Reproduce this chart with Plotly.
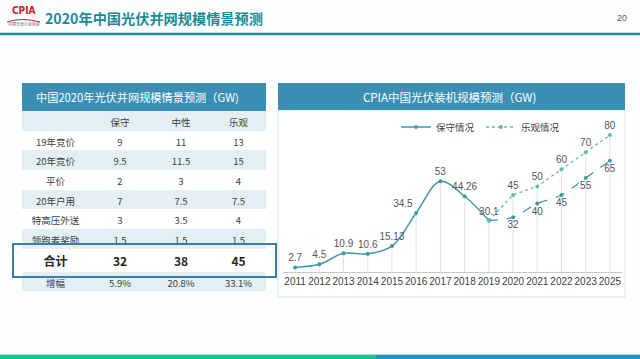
import plotly.graph_objects as go

W, H = 640, 359

# ---------------- data ----------------
years = ["2011", "2012", "2013", "2014", "2015", "2016", "2017", "2018",
         "2019", "2020", "2021", "2022", "2023", "2025"]
conservative = [2.7, 4.5, 10.9, 10.6, 15.13, 34.5, 53, 44.26, 30.1,
                32, 40, 45, 55, 65]
optimistic = [None, None, None, None, None, None, None, None, 30.1,
              45, 50, 60, 70, 80]
n_actual = 9  # 2011-2019 are actual values

table_title = "中国2020年光伏并网规模情景预测（GW)"
chart_title = "CPIA中国光伏装机规模预测（GW)"
table_cols = ["保守", "中性", "乐观"]
table_rows = ["19年竞价", "20年竞价", "平价", "20年户用", "特高压外送", "领跑者奖励"]
mix_conservative = [9, 9.5, 2, 7, 3, 1.5]
mix_neutral = [11, 11.5, 3, 7.5, 3.5, 1.5]
mix_optimistic = [13, 15, 4, 7.5, 4, 1.5]
total_label = "合计"
totals = [32, 38, 45]
growth_label = "增幅"
growth = ["5.9%", "20.8%", "33.1%"]


def px(x):
    return x / W


def py(y):
    return 1 - y / H


def fmt(v):
    return f"{v:g}"


CJK = "Noto Sans CJK SC"
LAT = "Liberation Sans"
C_CONS = "#3f9aa3"
C_OPT = "#62bba8"
LIGHT = "#e3eff3"
TXT = "#404040"

fig = go.Figure()

# ---------------- table (two parts: detail rows, then total + growth) ----------------
colw = [67, 62, 60, 55]
mix_cols = [mix_conservative, mix_neutral, mix_optimistic]
detail_cells = [table_rows] + [[fmt(v) for v in c] for c in mix_cols]
nrows = len(table_rows)
row_fill = [("white" if i % 2 == 0 else LIGHT) for i in range(nrows)]

fig.add_trace(go.Table(
    domain=dict(x=[px(22), px(266)], y=[py(250), py(111)]),
    columnwidth=colw,
    header=dict(values=[""] + table_cols, height=19.5,
                fill_color=LIGHT, line=dict(color=LIGHT, width=0),
                font=dict(family=CJK, size=9.5, color=TXT), align="center"),
    cells=dict(values=detail_cells, height=19.7,
               fill_color=[row_fill] * 4, line=dict(color=[row_fill] * 4, width=0),
               font=dict(family=CJK, size=9.5, color=TXT), align="center"),
))

fig.add_trace(go.Table(
    domain=dict(x=[px(22), px(266)], y=[py(296), py(248.7)]),
    columnwidth=colw,
    header=dict(values=[total_label] + [fmt(t) for t in totals], height=23,
                fill_color="white", line=dict(color="white", width=0),
                font=dict(family=CJK, size=12, color="#262626", weight="bold"), align="center"),
    cells=dict(values=[[growth_label]] + [[g] for g in growth], height=19,
               fill_color=LIGHT, line=dict(color=LIGHT, width=0),
               font=dict(family=CJK, size=9.5, color=TXT), align="center"),
))

# ---------------- chart ----------------
# drop lines from axis to the highest value of each year
dx, dy = [], []
for i, yr in enumerate(years):
    vals = [v for v in (conservative[i], optimistic[i]) if v is not None]
    dx += [yr, yr, None]
    dy += [0, max(vals), None]
fig.add_trace(go.Scatter(x=dx, y=dy, mode="lines", hoverinfo="skip",
                         line=dict(color="#e3e3e3", width=1), showlegend=False))

actual_pos = ["top center"] * n_actual
actual_pos[5] = "top left"
fig.add_trace(go.Scatter(
    x=years[:n_actual], y=conservative[:n_actual], name="保守情况",
    mode="lines+markers+text", line=dict(color=C_CONS, width=1.5, shape="spline"),
    marker=dict(size=4, color=C_CONS),
    text=[fmt(v) for v in conservative[:n_actual]], textposition=actual_pos,
    textfont=dict(family=LAT, size=10, color="#555555"), cliponaxis=False))

fig.add_trace(go.Scatter(
    x=years[n_actual - 1:], y=conservative[n_actual - 1:], name="保守情况",
    mode="lines+markers+text", line=dict(color=C_CONS, width=1.3, dash="dash", shape="spline"),
    marker=dict(size=4, color=C_CONS), showlegend=False,
    text=[""] + [fmt(v) for v in conservative[n_actual:]], textposition="bottom center",
    textfont=dict(family=LAT, size=10, color="#555555"), cliponaxis=False))

fig.add_trace(go.Scatter(
    x=years[n_actual - 1:], y=optimistic[n_actual - 1:], name="乐观情况",
    mode="lines+markers+text", line=dict(color=C_OPT, width=1.3, dash="dot"),
    marker=dict(size=4, color=C_OPT),
    text=[""] + [fmt(v) for v in optimistic[n_actual:]], textposition="top center",
    textfont=dict(family=LAT, size=10, color="#555555"), cliponaxis=False))

# ---------------- decorations ----------------
shapes = [
    dict(type="line", xref="paper", yref="paper", x0=0, x1=1, y0=py(34), y1=py(34),
         line=dict(color="#1d8e99", width=2.5)),
    dict(type="rect", xref="paper", yref="paper", x0=px(22), x1=px(266), y0=py(111), y1=py(83),
         fillcolor="#3b8fb4", line=dict(width=0), layer="below"),
    dict(type="rect", xref="paper", yref="paper", x0=px(278), x1=px(625), y0=py(297), y1=py(110),
         fillcolor="white", line=dict(color="#d3e3e7", width=1), layer="below"),
    dict(type="rect", xref="paper", yref="paper", x0=px(278), x1=px(625), y0=py(110), y1=py(83),
         fillcolor="#3b8fb4", line=dict(width=0), layer="below"),
    dict(type="rect", xref="paper", yref="paper", x0=px(13), x1=px(276), y0=py(277), y1=py(244),
         fillcolor="rgba(0,0,0,0)", line=dict(color="#3a80a5", width=2), layer="above"),
    dict(type="rect", xref="paper", yref="paper", x0=0, x1=px(376), y0=0, y1=py(355),
         fillcolor="#18c48e", line=dict(width=0)),
    dict(type="rect", xref="paper", yref="paper", x0=px(376), x1=1, y0=0, y1=py(355),
         fillcolor="#1f97c6", line=dict(width=0)),
    dict(type="line", xref="paper", yref="paper", x0=0, x1=1, y0=py(354.5), y1=py(354.5),
         line=dict(color="#a9dfd2", width=1)),
    # logo swoosh
    dict(type="path", xref="paper", yref="paper",
         path=f"M {px(7)},{py(22)} Q {px(22)},{py(17)} {px(40)},{py(22)}",
         line=dict(color="#c8202e", width=1)),
]

annotations = [
    dict(x=px(43), y=py(18), xref="paper", yref="paper", xanchor="left", yanchor="middle",
         text="<b>2020年中国光伏并网规模情景预测</b>", showarrow=False,
         font=dict(family=CJK, size=14.2, color="#1b8a98")),
    dict(x=px(629), y=py(18), xref="paper", yref="paper", xanchor="right", yanchor="middle",
         text="20", showarrow=False, font=dict(family=LAT, size=9, color="#595959")),
    dict(x=px(24), y=py(11), xref="paper", yref="paper", xanchor="center", yanchor="middle",
         text="<b>CPIA</b>", showarrow=False, font=dict(family="DejaVu Sans Condensed", size=10, color="#c8202e")),
    dict(x=px(24), y=py(24), xref="paper", yref="paper", xanchor="center", yanchor="middle",
         text="中国光伏行业协会", showarrow=False, font=dict(family=CJK, size=4, color="#555555")),
    dict(x=px(34), y=py(97), xref="paper", yref="paper", xanchor="left", yanchor="middle",
         text=table_title, showarrow=False, font=dict(family=CJK, size=11.2, color="white")),
    dict(x=px(449), y=py(97), xref="paper", yref="paper", xanchor="center", yanchor="middle",
         text=chart_title, showarrow=False, font=dict(family=CJK, size=11.5, color="white")),
]

fig.update_layout(
    width=W, height=H, margin=dict(l=0, r=0, t=0, b=0),
    paper_bgcolor="#fdfefe", plot_bgcolor="rgba(0,0,0,0)",
    shapes=shapes, annotations=annotations,
    showlegend=True,
    legend=dict(orientation="h", x=px(396), y=py(127), xanchor="left", yanchor="middle",
                font=dict(family=CJK, size=9.5, color=TXT),
                bgcolor="rgba(0,0,0,0)", itemwidth=30, tracegroupgap=0,
                entrywidth=40, entrywidthmode="pixels"),
    xaxis=dict(domain=[px(283), px(622)], type="category", range=[-0.5, 13.5],
               showline=True, linecolor="#c8c8c8", linewidth=1, ticks="",
               tickangle=0, showgrid=False, zeroline=False, fixedrange=True,
               tickfont=dict(family=LAT, size=10, color=TXT)),
    yaxis=dict(domain=[py(272), py(118)], range=[0, 90], visible=False,
               showgrid=False, zeroline=False),
)

fig.write_html("out.html", config={"displayModeBar": False},
               post_script="document.body.style.margin='0px';")
